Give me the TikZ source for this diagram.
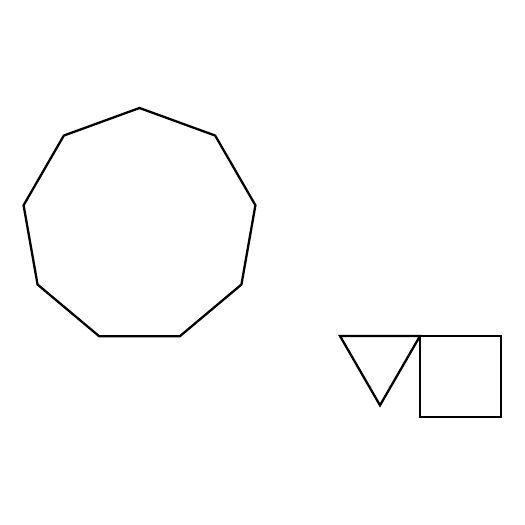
\documentclass[tikz,border=0pt]{standalone}
\usepackage{tikz}
\usetikzlibrary{calc}

\begin{document}
\begin{tikzpicture}[
        x=0.02cm, y=0.02cm,
        shape line/.style={draw=black, line width=1.3pt, line join=miter}
      ]
      \useasboundingbox (0,0) rectangle (525,525);
      % nonagon
      \coordinate (ctr) at (139.5,299.3);
      \foreach \i in {0,...,8} {
        \coordinate (n\i) at ($(ctr)+({90+40*\i}:117.7)$);
      }
      \draw[shape line] (n0) -- (n1) -- (n2) -- (n3) -- (n4) -- (n5)
            -- (n6) -- (n7) -- (n8) -- cycle;
      % triangle
      \coordinate (tl) at (340,189);
      \coordinate (tr) at (420,189);
      \coordinate (tb) at (380,119.7);
      \draw[shape line] (tl) -- (tr) -- (tb) -- cycle;
      % square
      \coordinate (sq) at (501,108);
      \draw[shape line] (tr) rectangle (sq);
    \end{tikzpicture}
\end{document}
